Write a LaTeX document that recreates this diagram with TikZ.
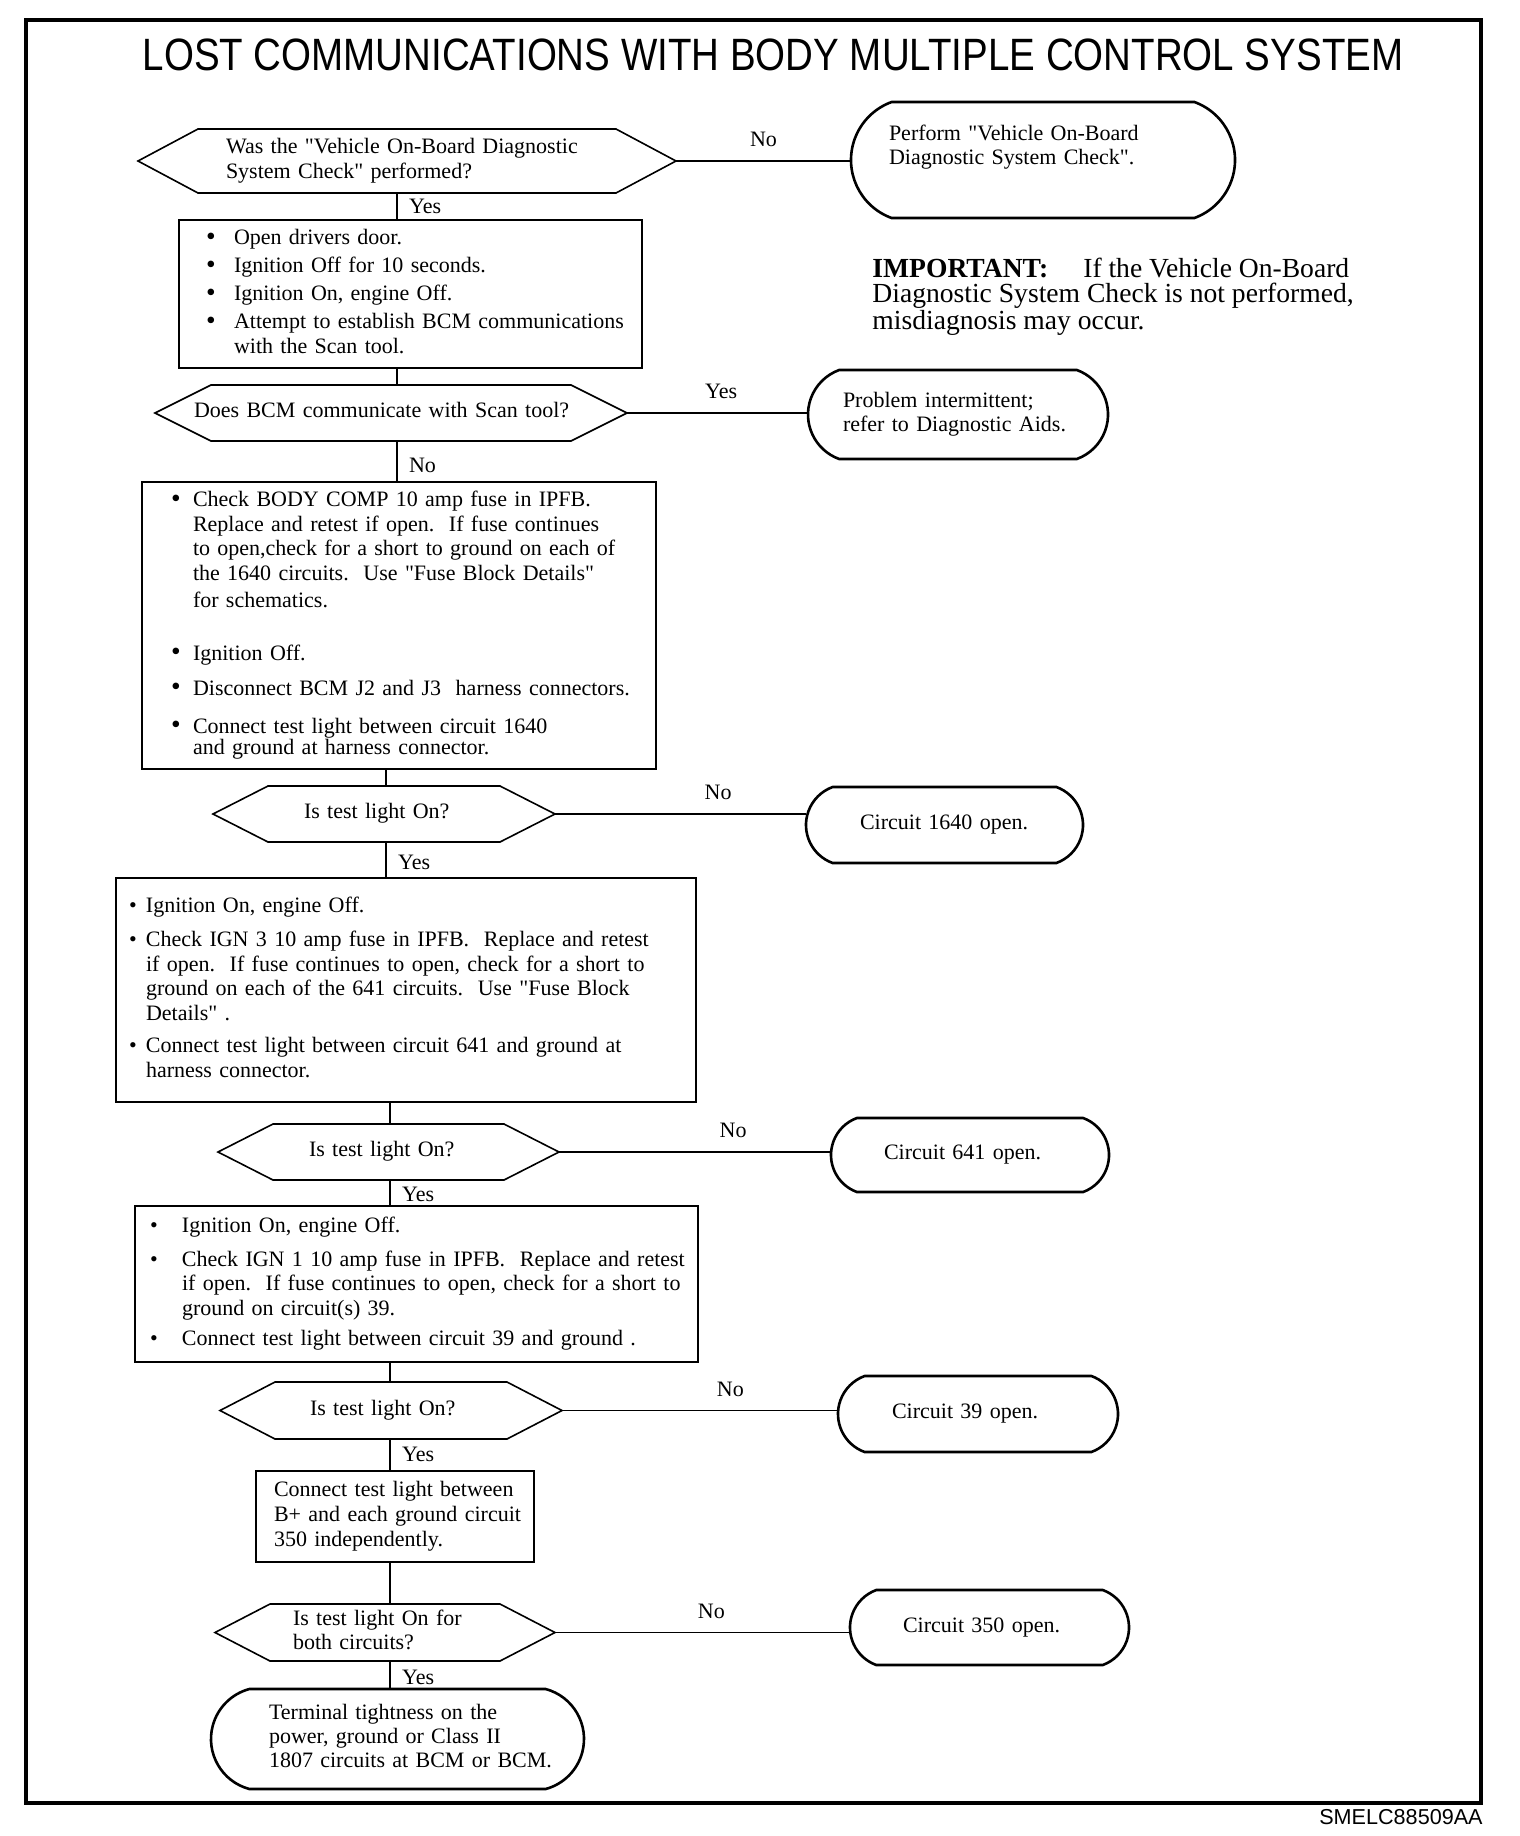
\documentclass[tikz,border=0pt]{standalone}
\usepackage{graphicx}
\usepackage{fontspec}
\setmainfont[Ligatures=TeXOff]{Liberation Serif}
\newfontfamily\titlefont{Liberation Sans}
\usetikzlibrary{shapes.misc}
\newcommand\mytab[1]{\noindent\begin{tabular}{@{}l@{}}#1\end{tabular}}
\newcommand\myb[1]{\makebox[#1][l]{\textbullet}}
\newcommand\mybb[1]{\makebox[#1][l]{\raisebox{-0.3pt}{\scalebox{1.25}{\textbullet}}}}
\newcommand\myi[1]{\hspace*{#1}}
\newcommand\hexa[2]{\draw[hexline] ([xshift=#2]#1.north west) -- ([xshift=-#2]#1.north east) -- (#1.east) -- ([xshift=-#2]#1.south east) -- ([xshift=#2]#1.south west) -- (#1.west) -- cycle;}
\begin{document}
\begin{tikzpicture}[x=0.5pt,y=-0.5pt,font=\fontsize{11}{12.3}\selectfont,
  box/.style={draw, line width=0.9pt, rectangle, inner sep=0pt, outer sep=0pt, align=left},
  hexnode/.style={rectangle, inner sep=0pt, outer sep=0pt, align=left},
  hexline/.style={line width=0.8pt},
  term/.style={draw, rounded rectangle, rounded rectangle arc length=140, line width=1.3pt, inner sep=0pt, outer sep=0pt, align=left},
  conn/.style={line width=0.7pt},
  lbl/.style={inner sep=3.7pt}]
\useasboundingbox (0,0) rectangle (1520,1836);
\draw[line width=1.7pt] (26,20) rectangle (1481,1803);
\node[inner sep=0pt] (title) at (773,55) {\titlefont\fontsize{22}{26}\selectfont\scalebox{0.875}[1.03]{LOST COMMUNICATIONS WITH BODY MULTIPLE CONTROL SYSTEM}};
\node[anchor=east, inner sep=0pt] (code) at (1483,1817) {\titlefont\fontsize{10.8}{12}\selectfont SMELC88509AA};
\node[anchor=north west, inner sep=0pt, align=left, font=\fontsize{13.8}{12.5}\selectfont] (imp) at (872,258) {\textbf{IMPORTANT:}\hspace{1.27em}If the Vehicle On-Board\\Diagnostic System Check is not performed,\\misdiagnosis may occur.};
% decisions
\node[hexnode, minimum width=269pt, minimum height=32pt, text width=181pt] (d1) at (407,161) {\mytab{Was the "Vehicle On-Board Diagnostic\\System Check" performed?}};
\hexa{d1}{30pt}
\node[hexnode, minimum width=236pt, minimum height=28pt, text width=197pt] (d2) at (391,413) {\mytab{Does BCM communicate with Scan tool?}};
\hexa{d2}{28pt}
\node[hexnode, minimum width=171pt, minimum height=28pt, text width=80pt] (d3) at (384,814) {\mytab{Is test light On?}};
\hexa{d3}{27.5pt}
\node[hexnode, minimum width=170.5pt, minimum height=28pt, text width=79.5pt] (d4) at (388.5,1152) {\mytab{Is test light On?}};
\hexa{d4}{27.5pt}
\node[hexnode, minimum width=171pt, minimum height=28.5pt, text width=81pt] (d5) at (391,1410.5) {\mytab{Is test light On?}};
\hexa{d5}{27.5pt}
\node[hexnode, minimum width=170pt, minimum height=28.5pt, text width=92pt, font=\fontsize{11}{12}\selectfont] (d6) at (385,1632.5) {\mytab{Is test light On for\\both circuits?}};
\hexa{d6}{27.5pt}
% boxes
\node[box, minimum width=231.5pt, minimum height=74pt, text width=204.5pt, font=\fontsize{11}{12.5}\selectfont] (b1) at (410.5,294) {\mytab{\mybb{14pt}Open drivers door.\\[1.5pt]
\mybb{14pt}Ignition Off for 10 seconds.\\[1.5pt]
\mybb{14pt}Ignition On, engine Off.\\[1.5pt]
\mybb{14pt}Attempt to establish BCM communications\\
\myi{14pt}with the Scan tool.}};
\node[box, minimum width=257pt, minimum height=143.5pt, text width=228pt] (b2) at (399,625.5) {\mytab{\mybb{11pt}Check BODY COMP 10 amp fuse in IPFB.\\
\myi{11pt}Replace and retest if open.\ \ If fuse continues\\
\myi{11pt}to open,check for a short to ground on each of\\
\myi{11pt}the 1640 circuits.\ \ Use "Fuse Block Details"\\[1.2pt]
\myi{11pt}for schematics.\\[14.2pt]
\mybb{11pt}Ignition Off.\\[5.2pt]
\mybb{11pt}Disconnect BCM J2 and J3\ \ harness connectors.\\[6.7pt]
\mybb{11pt}Connect test light between circuit 1640\\[-1.8pt]
\myi{11pt}and ground at harness connector.}};
\node[box, minimum width=290pt, minimum height=112pt, text width=277pt] (b3) at (406,990) {\mytab{\myb{8.5pt}Ignition On, engine Off.\\[4.7pt]
\myb{8.5pt}Check IGN 3 10 amp fuse in IPFB.\ \ Replace and retest\\
\myi{8.5pt}if open.\ \ If fuse continues to open, check for a short to\\
\myi{8.5pt}ground on each of the 641 circuits.\ \ Use "Fuse Block\\
\myi{8.5pt}Details" .\\[3.7pt]
\myb{8.5pt}Connect test light between circuit 641 and ground at\\
\myi{8.5pt}harness connector.}};
\node[box, minimum width=281.5pt, minimum height=78pt, text width=266.5pt] (b4) at (416.5,1284) {\mytab{\myb{16pt}Ignition On, engine Off.\\[4.7pt]
\myb{16pt}Check IGN 1 10 amp fuse in IPFB.\ \ Replace and retest\\
\myi{16pt}if open.\ \ If fuse continues to open, check for a short to\\
\myi{16pt}ground on circuit(s) 39.\\[2.7pt]
\myb{16pt}Connect test light between circuit 39 and ground .}};
\node[box, minimum width=139pt, minimum height=45.5pt, text width=121pt] (b5) at (395,1516.5) {\mytab{Connect test light between\\B+ and each ground circuit\\350 independently.}};
% terminals
\node[term, minimum width=192pt, minimum height=58pt, text width=154pt] (t1) at (1043,160) {\mytab{Perform "Vehicle On-Board\\Diagnostic System Check".\\ \strut}};
\node[term, minimum width=150pt, minimum height=44.5pt, text width=115pt] (t2) at (958,414.5) {\mytab{Problem intermittent;\\refer to Diagnostic Aids.}};
\node[term, minimum width=138.5pt, minimum height=38pt, text width=84.5pt] (t3) at (944.5,825) {\mytab{Circuit 1640 open.}};
\node[term, minimum width=139pt, minimum height=37pt, text width=86pt] (t4) at (970,1155) {\mytab{Circuit 641 open.}};
\node[term, minimum width=140pt, minimum height=38pt, text width=86pt] (t5) at (978,1414) {\mytab{Circuit 39 open.}};
\node[term, minimum width=139.5pt, minimum height=37.5pt, text width=86.5pt] (t6) at (989.5,1627.5) {\mytab{Circuit 350 open.}};
\node[term, rounded rectangle arc length=150, minimum width=186.5pt, minimum height=50pt, text width=128.5pt, font=\fontsize{11}{12}\selectfont] (t7) at (397.5,1739) {\mytab{Terminal tightness on the\\power, ground or Class II\\1807 circuits at BCM or BCM.}};
% horizontal connectors
\draw[conn] (d1.east) -- node[lbl, above=3pt, pos=0.5] {No} (d1.east -| t1.west);
\draw[conn] (d2.east) -- node[lbl, above=3pt, pos=0.52] {Yes} (d2.east -| t2.west);
\draw[conn] (d3.east) -- node[lbl, above=3pt, pos=0.65] {No} (d3.east -| t3.west);
\draw[conn] (d4.east) -- node[lbl, above=3pt, pos=0.64] {No} (d4.east -| t4.west);
\draw[conn] (d5.east) -- node[lbl, above=3pt, pos=0.61] {No} (d5.east -| t5.west);
\draw[conn] (d6.east) -- node[lbl, above=3pt, pos=0.53] {No} (d6.east -| t6.west);
% vertical connectors
\draw[conn] ([xshift=-5pt]d1.south) -- node[lbl, right=2pt, pos=0.5] {Yes} ([xshift=-5pt]d1.south |- b1.north);
\draw[conn] ([xshift=-6.75pt]b1.south) -- ([xshift=-6.75pt]b1.south |- d2.north);
\draw[conn] ([xshift=3pt]d2.south) -- node[lbl, right=2pt, pos=0.59] {No} ([xshift=3pt]d2.south |- b2.north);
\draw[conn] ([xshift=-6.5pt]b2.south) -- ([xshift=-6.5pt]b2.south |- d3.north);
\draw[conn] ([xshift=1pt]d3.south) -- node[lbl, right=2pt, pos=0.58] {Yes} ([xshift=1pt]d3.south |- b3.north);
\draw[conn] ([xshift=-8pt]b3.south) -- ([xshift=-8pt]b3.south |- d4.north);
\draw[conn] ([xshift=0.75pt]d4.south) -- node[lbl, right=2pt, pos=0.54] {Yes} ([xshift=0.75pt]d4.south |- b4.north);
\draw[conn] ([xshift=-13.25pt]b4.south) -- ([xshift=-13.25pt]b4.south |- d5.north);
\draw[conn] ([xshift=-0.5pt]d5.south) -- node[lbl, right=2pt, pos=0.47] {Yes} ([xshift=-0.5pt]d5.south |- b5.north);
\draw[conn] ([xshift=-2.5pt]b5.south) -- ([xshift=-2.5pt]b5.south |- d6.north);
\draw[conn] ([xshift=2.5pt]d6.south) -- node[lbl, right=2pt, pos=0.57] {Yes} ([xshift=2.5pt]d6.south |- t7.north);
\end{tikzpicture}
\end{document}
